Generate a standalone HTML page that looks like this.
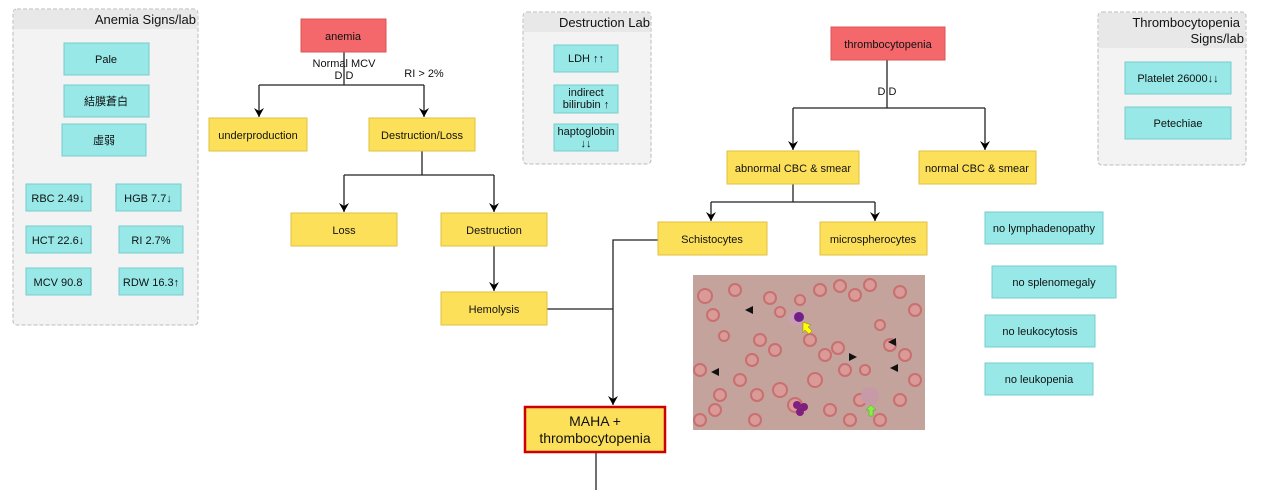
<!DOCTYPE html>
<html><head><meta charset="utf-8"><style>
html,body{margin:0;padding:0;background:#fff;}
svg{display:block;font-family:"Liberation Sans","Noto Sans CJK TC",sans-serif;}
</style></head><body>
<svg width="1267" height="490" viewBox="0 0 1267 490" xmlns="http://www.w3.org/2000/svg">
<defs>
<marker id="a" markerWidth="10" markerHeight="10" refX="9" refY="5" orient="auto" markerUnits="userSpaceOnUse">
<path d="M0,0 L9,5 L0,10 L3,5 Z" fill="#000"/>
</marker>
</defs>
<g stroke="#bbb" stroke-dasharray="4,2" fill="#f3f3f3">
<rect x="13" y="9" width="185" height="316" rx="4"/>
<rect x="523" y="12" width="128" height="152" rx="4"/>
<rect x="1098" y="12" width="148" height="153" rx="4"/>
</g>
<rect x="14" y="10" width="183" height="19" fill="#e8e8e8"/>
<rect x="524" y="13" width="126" height="19" fill="#e8e8e8"/>
<rect x="1099" y="13" width="146" height="35" fill="#e8e8e8"/>
<g font-size="13" fill="#111" text-anchor="end">
<text x="196" y="24">Anemia Signs/lab</text>
<text x="650" y="27">Destruction Lab</text>
<text x="1240" y="27">Thrombocytopenia</text>
<text x="1244" y="43">Signs/lab</text>
</g>
<g fill="#98e8e8" stroke="#7cc" stroke-width="1">
<rect x="64" y="43" width="85" height="32"/>
<rect x="64" y="85" width="85" height="32"/>
<rect x="62" y="124" width="84" height="32"/>
<rect x="26" y="184" width="65" height="27"/>
<rect x="116" y="184" width="65" height="27"/>
<rect x="26" y="226" width="65" height="27"/>
<rect x="119" y="226" width="64" height="27"/>
<rect x="26" y="268" width="65" height="27"/>
<rect x="119" y="268" width="64" height="27"/>
<rect x="554" y="45" width="64" height="27"/>
<rect x="554" y="85" width="64" height="28"/>
<rect x="554" y="124" width="64" height="27"/>
<rect x="1125" y="62" width="106" height="32"/>
<rect x="1125" y="107" width="106" height="32"/>
<rect x="985" y="212" width="118" height="32"/>
<rect x="992" y="266" width="124" height="32"/>
<rect x="985" y="315" width="110" height="32"/>
<rect x="985" y="363" width="108" height="32"/>
</g>
<g font-size="11" fill="#111" text-anchor="middle">
<text x="106" y="63">Pale</text>
<text x="106" y="105">結膜蒼白</text>
<text x="104" y="144">虛弱</text>
<text x="58" y="202">RBC 2.49↓</text>
<text x="148" y="202">HGB 7.7↓</text>
<text x="58" y="244">HCT 22.6↓</text>
<text x="151" y="244">RI 2.7%</text>
<text x="58" y="286">MCV 90.8</text>
<text x="151" y="286">RDW  16.3↑</text>
<text x="586" y="62">LDH ↑↑</text>
<text x="586" y="96">indirect</text>
<text x="586" y="108">bilirubin ↑</text>
<text x="586" y="135">haptoglobin</text>
<text x="586" y="147">↓↓</text>
<text x="1178" y="82">Platelet 26000↓↓</text>
<text x="1178" y="127">Petechiae</text>
<text x="1044" y="232">no lymphadenopathy</text>
<text x="1054" y="286">no splenomegaly</text>
<text x="1040" y="335">no leukocytosis</text>
<text x="1039" y="383">no leukopenia</text>
</g>
<g stroke="#222" stroke-width="1.3" fill="none">
<path d="M344,52 V85"/>
<path d="M259,85 H424"/>
<path d="M259,85 V117" marker-end="url(#a)"/>
<path d="M424,85 V117" marker-end="url(#a)"/>
<path d="M422,151 V175 M344,175 H494"/>
<path d="M344,175 V212" marker-end="url(#a)"/>
<path d="M494,175 V212" marker-end="url(#a)"/>
<path d="M494,246 V291" marker-end="url(#a)"/>
<path d="M547,309 H613 M658,240 H613 V405" marker-end="url(#a)"/>
<path d="M596,452 V490"/>
<path d="M887,60 V108 M793,108 H985"/>
<path d="M793,108 V150" marker-end="url(#a)"/>
<path d="M985,108 V150" marker-end="url(#a)"/>
<path d="M793,184 V202 M711,202 H875"/>
<path d="M711,202 V221" marker-end="url(#a)"/>
<path d="M875,202 V221" marker-end="url(#a)"/>
</g>
<g font-size="11" fill="#111" text-anchor="middle">
<text x="344" y="67">Normal MCV</text>
<text x="344" y="79">D D</text>
<text x="424" y="77">RI &gt; 2%</text>
<text x="887" y="95">D D</text>
</g>
<g fill="#f4676b" stroke="#d55">
<rect x="301" y="19" width="85" height="33"/>
<rect x="831" y="27" width="114" height="33"/>
</g>
<g fill="#fde05a" stroke="#e0c040">
<rect x="209" y="118" width="98" height="33"/>
<rect x="369" y="118" width="106" height="33"/>
<rect x="291" y="213" width="106" height="33"/>
<rect x="441" y="213" width="106" height="33"/>
<rect x="441" y="292" width="106" height="33"/>
<rect x="727" y="151" width="132" height="33"/>
<rect x="919" y="151" width="117" height="33"/>
<rect x="658" y="222" width="109" height="33"/>
<rect x="820" y="222" width="107" height="33"/>
</g>
<rect x="525" y="407" width="140" height="45" fill="#fde05a" stroke="#c00" stroke-width="2.5"/>
<g font-size="11" fill="#111" text-anchor="middle">
<text x="343" y="40">anemia</text>
<text x="888" y="48">thrombocytopenia</text>
<text x="258" y="139">underproduction</text>
<text x="422" y="139">Destruction/Loss</text>
<text x="344" y="234">Loss</text>
<text x="494" y="234">Destruction</text>
<text x="494" y="313">Hemolysis</text>
<text x="793" y="172">abnormal CBC &amp; smear</text>
<text x="977" y="172">normal CBC &amp; smear</text>
<text x="712" y="243">Schistocytes</text>
<text x="873" y="243">microspherocytes</text>
<text x="595" y="426" font-size="14">MAHA +</text>
<text x="595" y="443" font-size="14">thrombocytopenia</text>
</g>
<rect x="693" y="275" width="232" height="155" fill="#c4a39c"/>
<g fill="#d99a98" stroke="#c87070" stroke-width="2">
<circle cx="705" cy="296" r="7"/><circle cx="713" cy="315" r="6"/><circle cx="735" cy="290" r="6"/><circle cx="724" cy="336" r="5"/>
<circle cx="770" cy="298" r="6"/><circle cx="780" cy="312" r="5"/><circle cx="800" cy="300" r="5"/><circle cx="820" cy="290" r="6"/>
<circle cx="840" cy="286" r="6"/><circle cx="855" cy="295" r="6"/><circle cx="870" cy="285" r="6"/><circle cx="900" cy="292" r="6"/>
<circle cx="915" cy="310" r="6"/><circle cx="880" cy="325" r="5"/><circle cx="890" cy="345" r="6"/><circle cx="905" cy="355" r="6"/>
<circle cx="760" cy="340" r="6"/><circle cx="775" cy="350" r="6"/><circle cx="810" cy="340" r="6"/><circle cx="825" cy="355" r="6"/>
<circle cx="838" cy="348" r="6"/><circle cx="845" cy="370" r="6"/><circle cx="865" cy="370" r="5"/><circle cx="752" cy="360" r="6"/>
<circle cx="700" cy="370" r="6"/><circle cx="720" cy="395" r="6"/><circle cx="740" cy="380" r="6"/><circle cx="757" cy="395" r="6"/>
<circle cx="715" cy="410" r="6"/><circle cx="755" cy="420" r="6"/><circle cx="780" cy="390" r="7"/><circle cx="795" cy="405" r="7"/>
<circle cx="815" cy="380" r="7"/><circle cx="830" cy="410" r="6"/><circle cx="850" cy="420" r="6"/><circle cx="880" cy="420" r="6"/>
<circle cx="900" cy="400" r="6"/><circle cx="915" cy="380" r="6"/><circle cx="860" cy="400" r="6"/><circle cx="700" cy="420" r="6"/>
</g>
<circle cx="796" cy="318" r="8" fill="#c9a0b0"/><circle cx="799" cy="317" r="5" fill="#70208a"/>
<circle cx="870" cy="396" r="9" fill="#c69aa6"/>
<g fill="#80207e"><circle cx="797" cy="405" r="4"/><circle cx="804" cy="407" r="4"/><circle cx="800" cy="412" r="4"/></g>
<g fill="#111">
<path d="M745,310 l8,-4 v8z"/><path d="M711,372 l8,-4 v8z"/><path d="M857,357 l-8,-4 v8z"/><path d="M888,342 l8,-4 v8z"/><path d="M890,368 l8,-4 v8z"/>
</g>
<path d="M803,322 l8,3 -3,2 4,4 -3,3 -4,-4 -2,3z" fill="#ff0" stroke="#880" stroke-width="0.5"/>
<path d="M871,405 l-5,5 h3 v6 h4 v-6 h3z" fill="#8e4" stroke="#4a2" stroke-width="0.5"/>
</svg>
</body></html>
